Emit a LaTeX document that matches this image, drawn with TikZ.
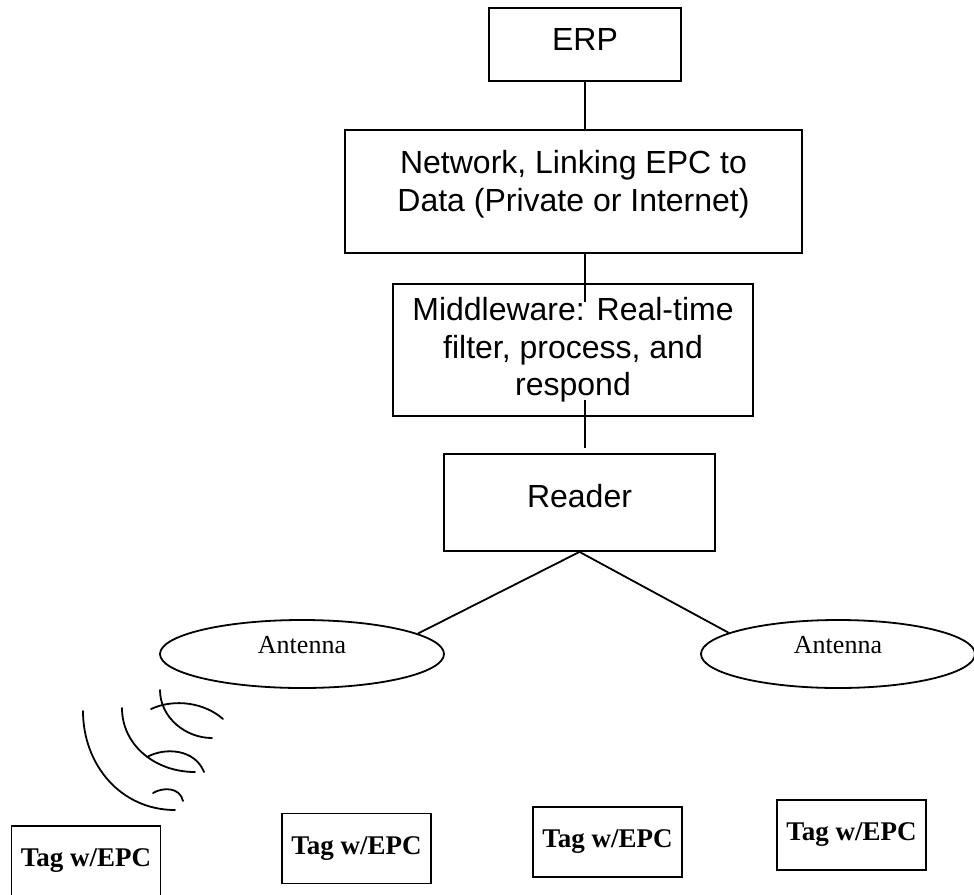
\documentclass[tikz,border=0pt]{standalone}
\usepackage{fontspec}
\setmainfont{Liberation Serif}
\setsansfont{Liberation Sans}
\usetikzlibrary{shapes.geometric}

\begin{document}
\begin{tikzpicture}[x=1pt,y=-1pt,line width=1.8pt]
\tikzstyle{kasten}=[draw,rectangle,inner sep=0pt,align=center,font=\sffamily\fontsize{32}{37.5}\selectfont]
\tikzstyle{antenne}=[draw,ellipse,inner sep=0pt,minimum width=284pt,minimum height=68pt,text depth=19pt,font=\fontsize{26}{30}\selectfont]
\tikzstyle{etikett}=[draw,rectangle,inner sep=0pt,minimum width=149pt,minimum height=70pt,font=\bfseries\fontsize{27}{30}\selectfont]
\tikzstyle{welle}=[line cap=round]

\useasboundingbox (0,0) rectangle (974,894);

\node[kasten,minimum width=192pt,minimum height=73pt,text depth=10pt] (erp) at (585,44.5) {ERP};
\node[kasten,minimum width=457pt,minimum height=123pt] (netz) at (573.5,191.5) {Network, Linking EPC to\\Data (Private or Internet)\\[-16pt]};
\node[kasten,minimum width=360pt,minimum height=132pt] (middleware) at (573,350) {Middleware: Real-time\\filter, process, and\\respond};
\node[kasten,minimum width=271pt,minimum height=97pt,text depth=14pt] (leser) at (579.5,502.5) {Reader};

\node[antenne] (antenneLinks) at (302,654) {Antenna};
\node[antenne,minimum width=274pt] (antenneRechts) at (838,654) {Antenna};

\node[etikett] (tag1) at (86,861) {Tag w/EPC}; % unterer Rand liegt außerhalb des Bildes
\node[etikett] (tag2) at (356.5,848.5) {Tag w/EPC};
\node[etikett] (tag3) at (607.5,842) {Tag w/EPC};
\node[etikett] (tag4) at (851.5,835) {Tag w/EPC};

% Verbindungen laufen nicht mittig, sondern auf der Linie von ERP
\coordinate (netzEnde) at (585,302);
\coordinate (mwStart) at (585,400);
\coordinate (leserOben) at (585,448);
\draw (erp.south) -- (erp.south |- netz.north);
\draw (netz.south -| netzEnde) -- (netzEnde);
\draw (mwStart) -- (leserOben);

\draw (leser.south) -- (antenneLinks.10);
\draw (leser.south) -- (antenneRechts.169);

% Funkwellen unter der linken Antenne
\draw[welle] (83,711) .. controls (83,765) and (121,810) .. (175,810);
\draw[welle] (122,708) .. controls (122,745) and (155,772) .. (195,772);
\draw[welle] (160,690) .. controls (160,717) and (185,738) .. (212,738);
\draw[welle] (151,709) .. controls (175,698) and (205,703) .. (223,719);
\draw[welle] (147,757) .. controls (165,747) and (195,749) .. (204,772);
\draw[welle] (153,793) .. controls (163,787) and (180,787) .. (183,801);
\end{tikzpicture}
\end{document}
